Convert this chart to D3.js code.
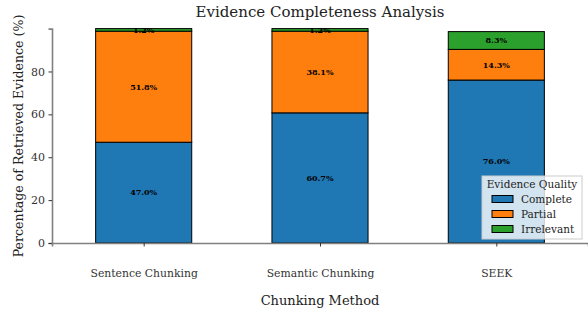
<!DOCTYPE html>
<html>
<head>
<meta charset="utf-8">
<script src="https://cdn.jsdelivr.net/npm/d3@7"></script>
<style>
  body { margin: 0; background: #fff; }
  text { font-family: "DejaVu Serif", serif; }
</style>
</head>
<body>
<div class="chart"></div>
<script>
// chart data
var methods = ['Sentence Chunking', 'Semantic Chunking', 'SEEK'];
var complete = [47.0, 60.7, 76.0];
var partial = [51.8, 38.1, 14.3];
var irrelevant = [1.2, 1.2, 8.3];
var qualities = ['Complete', 'Partial', 'Irrelevant'];
var colors = ['#1f77b4', '#ff7f0e', '#2ca02c'];
var yTicks = [0, 20, 40, 60, 80];

var opts = {
  width: 588,
  height: 315,
  left: 52,
  right: 588,
  top: 28.6,
  bottom: 243
};

var svg = d3.select('.chart').append('svg')
  .attr('width', opts.width).attr('height', opts.height);

var rows = methods.map(function(m, i) {
  return { method: m, Complete: complete[i], Partial: partial[i], Irrelevant: irrelevant[i] };
});

var stacked = d3.stack().keys(qualities)(rows);

var x = d3.scaleLinear().domain([-0.52, 2.52]).range([opts.left, opts.right]);
var y = d3.scaleLinear().domain([0, 100]).range([opts.bottom, opts.top]);
var barW = 0.545;

// bars
var layer = svg.selectAll('g.layer').data(stacked).enter().append('g')
  .attr('class', 'layer')
  .attr('fill', (d, i) => colors[i]);

layer.selectAll('rect').data(d => d).enter().append('rect')
  .attr('x', (d, i) => x(i - barW / 2))
  .attr('width', x(barW) - x(0))
  .attr('y', d => y(d[1]))
  .attr('height', d => y(d[0]) - y(d[1]))
  .attr('stroke', '#000')
  .attr('stroke-width', 1);

// value labels
layer.selectAll('text').data(d => d.map(v => ({ v: v }))).enter().append('text')
  .attr('x', (d, i) => x(i))
  .attr('y', d => y((d.v[0] + d.v[1]) / 2))
  .attr('dy', '0.35em')
  .attr('text-anchor', 'middle')
  .attr('font-size', 8)
  .attr('font-weight', 'bold')
  .attr('fill', '#000')
  .text(d => (d.v[1] - d.v[0]).toFixed(1) + '%');

// axes
var yAxis = svg.append('g').attr('transform', `translate(${opts.left},0)`)
  .call(d3.axisLeft(y).tickValues(yTicks).tickSize(3.5).tickPadding(3.5));
var xAxis = svg.append('g').attr('transform', `translate(0,${opts.bottom})`)
  .call(d3.axisBottom(x).tickValues([0, 1, 2]).tickFormat(i => methods[i]).tickSize(3.5).tickPadding(23));

[yAxis, xAxis].forEach(function(a) {
  a.select('.domain').attr('stroke', '#808080').attr('stroke-width', 1.6);
  a.selectAll('.tick line').attr('stroke', '#333');
  a.selectAll('.tick text').attr('fill', '#333').style('font-family', '"DejaVu Serif", serif');
});
yAxis.selectAll('.tick text').attr('font-size', 11);
xAxis.selectAll('.tick text').attr('font-size', 10.8);

// titles
svg.append('text').attr('x', 320).attr('y', 17).attr('text-anchor', 'middle')
  .attr('font-size', 15).attr('fill', '#222').text('Evidence Completeness Analysis');
svg.append('text').attr('x', 320).attr('y', 305).attr('text-anchor', 'middle')
  .attr('font-size', 13).attr('fill', '#222').text('Chunking Method');
svg.append('text').attr('transform', 'translate(23,136) rotate(-90)').attr('text-anchor', 'middle')
  .attr('font-size', 12.6).attr('fill', '#222').text('Percentage of Retrieved Evidence (%)');

// legend
var legend = svg.append('g').attr('transform', 'translate(482,176)');
legend.append('rect').attr('width', 100).attr('height', 63)
  .attr('fill', 'rgba(255,255,255,0.8)').attr('stroke', '#ccc').attr('stroke-width', 1);
legend.append('text').attr('x', 50).attr('y', 12).attr('text-anchor', 'middle')
  .attr('font-size', 10.5).attr('fill', '#222').text('Evidence Quality');
var items = legend.selectAll('g.item').data(qualities).enter().append('g')
  .attr('class', 'item')
  .attr('transform', (d, i) => `translate(10,${19.5 + i * 15})`);
items.append('rect').attr('width', 21).attr('height', 7)
  .attr('fill', (d, i) => colors[i]).attr('stroke', '#000').attr('stroke-width', 1);
items.append('text').attr('x', 29).attr('y', 3.5).attr('dy', '0.35em')
  .attr('font-size', 10.5).attr('fill', '#222').text(d => d);
</script>
</body>
</html>
